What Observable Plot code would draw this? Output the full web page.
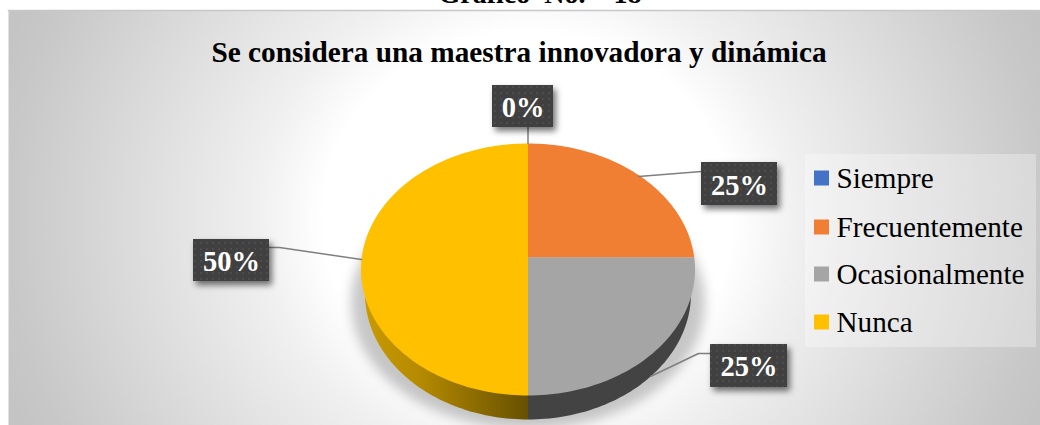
<!DOCTYPE html>
<html><head><meta charset="utf-8">
<style>html,body{margin:0;padding:0;background:#fff;overflow:hidden}svg{display:block}</style>
<script src="https://cdn.jsdelivr.net/npm/d3@7"></script>
<script src="https://cdn.jsdelivr.net/npm/@observablehq/plot@0.6"></script>
</head><body><div id="chart"></div>
<script>
const categories = ["Siempre", "Frecuentemente", "Ocasionalmente", "Nunca"];
const shares = [0, 25, 25, 50];
const colors = ["#4472C4", "#F07F33", "#A5A5A5", "#FFC000"];
const topTitle = "Gráfico\u00a0\u00a0No.\u00a0\u00a0\u00a0\u00a018";
const chartTitle = "Se considera una maestra innovadora y dinámica";

// layout (pixel geometry of the tilted pie, converted to scale units below)
const W = 1040, H = 425, L = 8, T = 10;
const CX = 527.5, CY = 269, RX = 167, RY = 126;
const tilt = 12 / RY;
const X = p => (p - CX) / RX, Y = p => (CY - p) / RY;

const arcs = d3.pie().sort(null).startAngle(0).endAngle(2 * Math.PI)(shares);
const rayT = a => -tilt * Math.cos(a) + Math.sqrt(tilt * tilt * Math.cos(a) ** 2 - tilt * tilt + 1);
const slices = [];
arcs.forEach((arc, i) => {
  if (arc.endAngle - arc.startAngle <= 0) return;
  const name = categories[i];
  slices.push({name, x: 0, y: tilt});
  const n = Math.max(2, Math.ceil((arc.endAngle - arc.startAngle) * 40));
  for (let k = 0; k <= n; k++) {
    const a = arc.startAngle + (arc.endAngle - arc.startAngle) * k / n, t = rayT(a);
    slices.push({name, x: t * Math.sin(a), y: tilt + t * Math.cos(a)});
  }
});
// extruded side: a lower ellipse
const sideRx = 163 / RX, sideDy = 24 / RY;
const sidePts = (a0, a1) => {
  const pts = [{x: 0, y: 0}];
  for (let k = 0; k <= 60; k++) {
    const a = a0 + (a1 - a0) * k / 60;
    pts.push({x: sideRx * Math.sin(a), y: Math.cos(a) - sideDy});
  }
  return pts;
};
const sideGray = sidePts(Math.PI / 2, Math.PI);
const sideYellow = sidePts(Math.PI, Math.PI * 1.5);
const shadow = d3.range(0, 121).map(k => {
  const a = k / 120 * 2 * Math.PI;
  return {x: 1.06 * Math.sin(a), y: Math.cos(a) - 33 / RY};
});

// value labels (box and leader geometry in pixels)
const labelBoxes = [
  {i: 0, x1: 492, x2: 553, y1: 85, y2: 127, base: 117, lead: [[527.5, 127], [527.5, 143]]},
  {i: 1, x1: 701, x2: 777, y1: 162, y2: 205, base: 195, lead: [[701, 171], [638, 176]]},
  {i: 2, x1: 710, x2: 787, y1: 344, y2: 387, base: 376, lead: [[710, 353], [698, 353], [650, 376]]},
  {i: 3, x1: 193, x2: 269, y1: 239, y2: 281, base: 271, lead: [[269, 247], [279, 247], [361, 259]]}
];
const leaders = labelBoxes.flatMap(b => b.lead.map(([px, py]) => ({z: b.i, x: X(px), y: Y(py)})));
const legendY = [178, 227, 274, 322];
const legendRows = categories.map((name, i) => ({name, y: legendY[i]}));

const defs = () => {
  const g = document.createElementNS("http://www.w3.org/2000/svg", "g");
  g.innerHTML = `<defs>
    <radialGradient id="bg" gradientUnits="userSpaceOnUse" cx="0" cy="0" r="1" gradientTransform="translate(527 217) scale(730 660)">
      <stop offset="0.28" stop-color="#ffffff"/><stop offset="0.37" stop-color="#f0f0f0"/><stop offset="0.71" stop-color="#c8c8c8"/><stop offset="0.76" stop-color="#c4c4c4"/>
    </radialGradient>
    <linearGradient id="sideY" gradientUnits="userSpaceOnUse" x1="362" x2="527" y1="0" y2="0">
      <stop offset="0" stop-color="#c99a00"/><stop offset="0.35" stop-color="#b58a00"/><stop offset="1" stop-color="#675000"/>
    </linearGradient>
    <pattern id="dots" patternUnits="userSpaceOnUse" width="6" height="6">
      <rect width="6" height="6" fill="#404040"/><circle cx="3" cy="3" r="0.9" fill="#525252"/>
    </pattern></defs>`;
  return g;
};

const font = "'Liberation Serif', serif";
const plot = Plot.plot({
  width: W, height: H, marginLeft: L, marginTop: T, marginRight: 0, marginBottom: 0,
  style: {background: "#fff", fontFamily: font},
  x: {domain: [X(L), X(W)], axis: null},
  y: {domain: [Y(H), Y(T)], axis: null},
  color: {domain: categories, range: colors},
  marks: [
    defs,
    Plot.frame({fill: "url(#bg)", stroke: null}),
    Plot.frame({anchor: "top", stroke: "#c8c8c8", strokeWidth: 1.5}),
    Plot.text([topTitle], {text: d => d, frameAnchor: "top", dy: -8, dx: 15.5, lineAnchor: "bottom", fontSize: 28, fontWeight: "bold", fontFamily: font, fill: "#000"}),
    Plot.text([chartTitle], {text: d => d, x: X(518.5), y: Y(58), lineAnchor: "bottom", dy: 3, fontSize: 29.3, fontWeight: "bold", fontFamily: font, fill: "#000"}),
    Plot.line(shadow, {x: "x", y: "y", fill: "#000", stroke: null, fillOpacity: 0.22, imageFilter: "blur(6px)"}),
    Plot.line(sideGray, {x: "x", y: "y", fill: "#434343", stroke: null}),
    Plot.line(sideYellow, {x: "x", y: "y", fill: "url(#sideY)", stroke: null}),
    Plot.line(slices, {x: "x", y: "y", z: "name", fill: "name", stroke: null}),
    Plot.line(leaders, {x: "x", y: "y", z: "z", stroke: "#7f7f7f", strokeWidth: 1.5, curve: "linear"}),
    Plot.rect(labelBoxes, {x1: d => X(d.x1), x2: d => X(d.x2), y1: d => Y(d.y1), y2: d => Y(d.y2), fill: "url(#dots)", imageFilter: "drop-shadow(3px 4px 3px rgba(0,0,0,.55))"}),
    Plot.text(labelBoxes, {x: d => X((d.x1 + d.x2) / 2), y: d => Y(d.base), text: d => shares[d.i] + "%", lineAnchor: "bottom", dy: -1, fontSize: 28.5, fontWeight: "bold", fontFamily: font, fill: "#fff"}),
    Plot.rect([0], {x1: X(805), x2: X(1036), y1: Y(154), y2: Y(347), fill: "#fff", fillOpacity: 0.3}),
    Plot.rect(legendRows, {x1: X(814), x2: X(829), y1: d => Y(d.y - 7.5), y2: d => Y(d.y + 7.5), fill: "name"}),
    Plot.text(legendRows, {x: X(836), y: d => Y(d.y), text: "name", textAnchor: "start", fontSize: 29.2, fontFamily: font, fill: "#000"})
  ]
});
document.getElementById("chart").append(plot);
</script></body></html>
